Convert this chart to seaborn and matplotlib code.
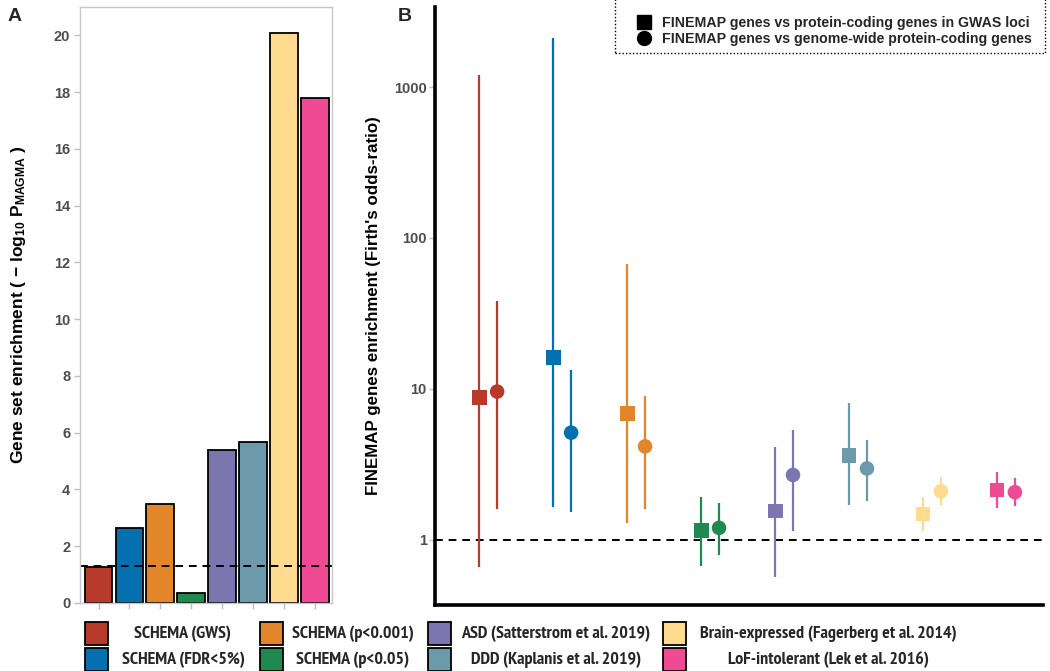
import numpy as np
import pandas as pd
import matplotlib
matplotlib.use("Agg")
import matplotlib.pyplot as plt
import seaborn as sns
from matplotlib import font_manager
from matplotlib.lines import Line2D
from matplotlib.patches import Rectangle

# gene sets, in plotting order
gene_sets = [
    "SCHEMA (GWS)",
    "SCHEMA (FDR<5%)",
    "SCHEMA (p<0.001)",
    "SCHEMA (p<0.05)",
    "ASD (Satterstrom et al. 2019)",
    "DDD (Kaplanis et al. 2019)",
    "Brain-expressed (Fagerberg et al. 2014)",
    "LoF-intolerant (Lek et al. 2016)",
]
set_colors = ["#B83A2A", "#0570B0", "#E28629", "#1E8A4F",
              "#7B75B0", "#6D9AAA", "#FEDB8F", "#EF4A93"]

# panel A: MAGMA gene set enrichment (-log10 p)
magma_neglog10p = [1.27, 2.66, 3.48, 0.36, 5.38, 5.69, 20.1, 17.78]
magma_threshold = 0.05

# panel B: Firth's odds ratios with 95% CI
loci_or = [8.8, 16.1, 6.85, 1.15, 1.55, 3.62, 1.48, 2.14]
loci_lo = [0.66, 1.64, 1.30, 0.67, 0.57, 1.70, 1.14, 1.62]
loci_hi = [1200, 2120, 67, 1.91, 4.13, 8.06, 1.91, 2.81]
gw_or = [9.6, 5.13, 4.16, 1.20, 2.69, 2.97, 2.10, 2.07]
gw_lo = [1.61, 1.54, 1.61, 0.79, 1.15, 1.82, 1.71, 1.67]
gw_hi = [38, 13.4, 9.0, 1.75, 5.37, 4.57, 2.59, 2.55]

comparison_labels = ["FINEMAP genes vs protein-coding genes in GWAS loci",
                     "FINEMAP genes vs genome-wide protein-coding genes"]

sns.set_theme(style="white")
plt.rcParams['font.family'] = ['Liberation Sans', 'DejaVu Sans']
plt.rcParams['font.weight'] = 'bold'
plt.rcParams['mathtext.fontset'] = 'custom'
plt.rcParams['mathtext.rm'] = 'Liberation Sans:bold'
plt.rcParams['mathtext.bf'] = 'Liberation Sans:bold'
plt.rcParams['mathtext.default'] = 'rm'


def _is_bold(w):
    return w in ("bold", "heavy", "black", "semibold", "demibold") or (isinstance(w, int) and w >= 600)


# a bold narrow face for the bottom legend, if one is installed
narrow_bold = sorted({f.name for f in font_manager.fontManager.ttflist
                      if "Narrow" in f.name and _is_bold(f.weight)})
if narrow_bold:
    legend_family, legend_size = [narrow_bold[0], "Liberation Sans"], 13
else:
    legend_family, legend_size = ["Liberation Sans", "DejaVu Sans"], 9.8

W, H = 1050, 671
fig = plt.figure(figsize=(W / 100, H / 100), dpi=100)
ax_a = fig.add_axes([80 / W, 1 - 603 / H, 252 / W, 596 / H])
ax_b = fig.add_axes([435 / W, 1 - 605 / H, 608 / W, 598 / H])

tick_grey = "#BDBDBD"
label_grey = "#4D4D4D"

# ---- panel A ----
df_a = pd.DataFrame({"gene_set": gene_sets, "score": magma_neglog10p})
sns.barplot(data=df_a, x="gene_set", y="score", hue="gene_set",
            order=gene_sets, hue_order=gene_sets, palette=set_colors, saturation=1,
            width=0.9, edgecolor="black", linewidth=1.3, legend=False, ax=ax_a)
ax_a.axhline(-np.log10(magma_threshold), color="black", lw=1.4, ls=(0, (4, 3)))
ax_a.set_xlim(-0.6, 7.55)
ax_a.set_ylim(0, 21)
ax_a.set_yticks(range(0, 21, 2))
ax_a.set_xticks(range(len(gene_sets)))
ax_a.set_xticklabels([])
ax_a.set_xlabel("")
ax_a.set_ylabel("Gene set enrichment ( \u2212 log$_{10}$ P$_{MAGMA}$ )",
                fontsize=12.5, fontweight="bold", color="black")
ax_a.yaxis.set_label_coords(-0.205, 0.5)
for sp in ax_a.spines.values():
    sp.set_color("#C8C8C8")
    sp.set_linewidth(1)
ax_a.tick_params(bottom=True, left=True, length=4, width=1, color=tick_grey,
                 labelcolor=label_grey, labelsize=10.5, pad=3)

# ---- panel B ----
pos = np.arange(len(gene_sets))
dodge = 0.12
df_b = pd.DataFrame({
    "gene_set": gene_sets * 2,
    "comparison": ["loci"] * len(gene_sets) + ["genome"] * len(gene_sets),
    "x": np.concatenate([pos - dodge, pos + dodge]),
    "odds_ratio": loci_or + gw_or,
    "lo": loci_lo + gw_lo,
    "hi": loci_hi + gw_hi,
})
color_map = dict(zip(gene_sets, set_colors))
ax_b.vlines(df_b["x"], df_b["lo"], df_b["hi"],
            colors=[color_map[g] for g in df_b["gene_set"]], lw=1.6, zorder=2)
sns.scatterplot(data=df_b, x="x", y="odds_ratio", hue="gene_set", style="comparison",
                hue_order=gene_sets, palette=set_colors,
                markers={"loci": "s", "genome": "o"}, s=110, linewidth=0,
                legend=False, zorder=3, ax=ax_b)
ax_b.axhline(1, color="black", lw=1.4, ls=(0, (4, 3)), zorder=1)
ax_b.set_yscale("log")
ax_b.set_ylim(0.37, 3390)
ax_b.set_xlim(-0.72, 7.5)
ax_b.set_yticks([1, 10, 100, 1000])
ax_b.set_yticklabels(["1", "10", "100", "1000"])
ax_b.minorticks_off()
ax_b.set_xticks([])
ax_b.set_xlabel("")
ax_b.set_ylabel("FINEMAP genes enrichment (Firth's odds-ratio)",
                fontsize=12.2, fontweight="bold", color="black")
ax_b.yaxis.set_label_coords(-0.088, 0.5)
ax_b.spines[["top", "right"]].set_visible(False)
for side in ["left", "bottom"]:
    ax_b.spines[side].set_color("black")
    ax_b.spines[side].set_linewidth(2.6)
ax_b.tick_params(left=True, length=4, width=1, color=tick_grey,
                 labelcolor=label_grey, labelsize=10.5, pad=2)

# marker-shape legend, top right, inside a dotted box
handles = [Line2D([], [], marker="s", color="black", ls="", markersize=10),
           Line2D([], [], marker="o", color="black", ls="", markersize=10)]
fig.legend(handles, comparison_labels, loc="upper left",
           bbox_to_anchor=(637 / W, 1 - 15.5 / H), frameon=False,
           prop={"weight": "bold", "size": 10.2},
           handletextpad=0.75, labelspacing=0.2, borderpad=0,
           borderaxespad=0, handlelength=1.0)
fig.add_artist(Rectangle((615 / W, 1 - 53 / H), 430 / W, 56 / H,
                         transform=fig.transFigure, fill=False,
                         edgecolor="black", lw=1, ls=(0, (1, 1.5))))

# panel letters
fig.text(8 / W, 1 - 8 / H, "A", fontsize=14, fontweight="bold", va="top")
fig.text(398 / W, 1 - 8 / H, "B", fontsize=14, fontweight="bold", va="top")

# ---- shared colour legend along the bottom ----
patch_left = [85, 260, 428, 663]
text_center = [183, 353, 556, 828]
row_top = [622, 648]
box = 23
for i, (name, col) in enumerate(zip(gene_sets, set_colors)):
    c, r = i // 2, i % 2
    fig.add_artist(Rectangle((patch_left[c] / W, 1 - (row_top[r] + box) / H),
                             box / W, box / H, transform=fig.transFigure,
                             facecolor=col, edgecolor="black", lw=1.3))
    fig.text(text_center[c] / W, 1 - (row_top[r] + box / 2) / H, name,
             ha="center", va="center", fontsize=legend_size, fontweight="bold",
             family=legend_family)

fig.savefig("out.png", dpi=100)
